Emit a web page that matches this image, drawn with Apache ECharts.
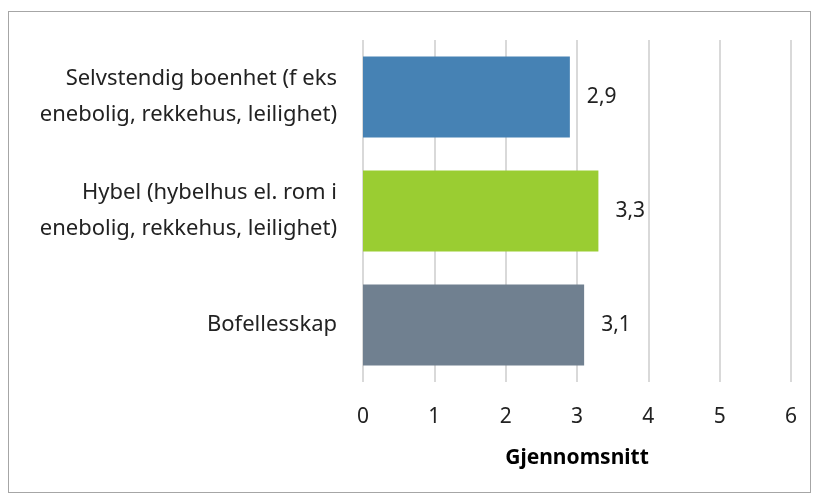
<!DOCTYPE html>
<html>
<head>
<meta charset="utf-8">
<script src="https://cdn.jsdelivr.net/npm/echarts@6/dist/echarts.min.js"></script>
<style>
  html, body { margin: 0; padding: 0; background: #fff; }
  #chart { width: 815px; height: 498px; }
  .frame { position: absolute; left: 8px; top: 11px; width: 803px; height: 482px; border: 1px solid #a6a6a6; box-sizing: border-box; pointer-events: none; }
</style>
</head>
<body>
<div id="chart"></div>
<div class="frame"></div>
<script>
// data
const categories = [
  'Selvstendig boenhet (f eks\nenebolig, rekkehus, leilighet)',
  'Hybel (hybelhus el. rom i\nenebolig, rekkehus, leilighet)',
  'Bofellesskap'
];
const values = [2.9, 3.3, 3.1];
const barColors = ['#4682b4', '#9acd32', '#708090'];

const chart = echarts.init(document.getElementById('chart'));
window.addEventListener('resize', () => chart.resize());

const font = '"Noto Sans", "Open Sans", sans-serif';

let option = {
  animation: false,
  grid: { left: 363, right: 24, top: 40, bottom: 116 },
  xAxis: {
    type: 'value',
    min: 0,
    max: 6,
    interval: 1,
    name: 'Gjennomsnitt',
    nameLocation: 'middle',
    nameGap: 66,
    nameTextStyle: { fontFamily: font, fontSize: 21, fontWeight: 'bold', color: '#000' },
    axisLine: { show: false },
    axisTick: { show: false },
    axisLabel: { fontFamily: font, fontSize: 21, color: '#222', margin: 25 },
    splitLine: { show: true, lineStyle: { color: '#d9d9d9', width: 2 } }
  },
  yAxis: {
    type: 'category',
    data: categories,
    inverse: true,
    axisLine: { show: false },
    axisTick: { show: false },
    axisLabel: { fontFamily: font, fontSize: 22, color: '#222', margin: 26, lineHeight: 36, align: 'right' }
  },
  series: [
    {
      type: 'bar',
      barCategoryGap: '29%',
      data: values.map((v, i) => ({ value: v, itemStyle: { color: barColors[i] } })),
      label: {
        show: true,
        position: 'right',
        distance: 17,
        fontFamily: font,
        fontSize: 21,
        color: '#222',
        formatter: p => String(p.value).replace('.', ',')
      }
    }
  ]
};

chart.setOption(option);
</script>
</body>
</html>
